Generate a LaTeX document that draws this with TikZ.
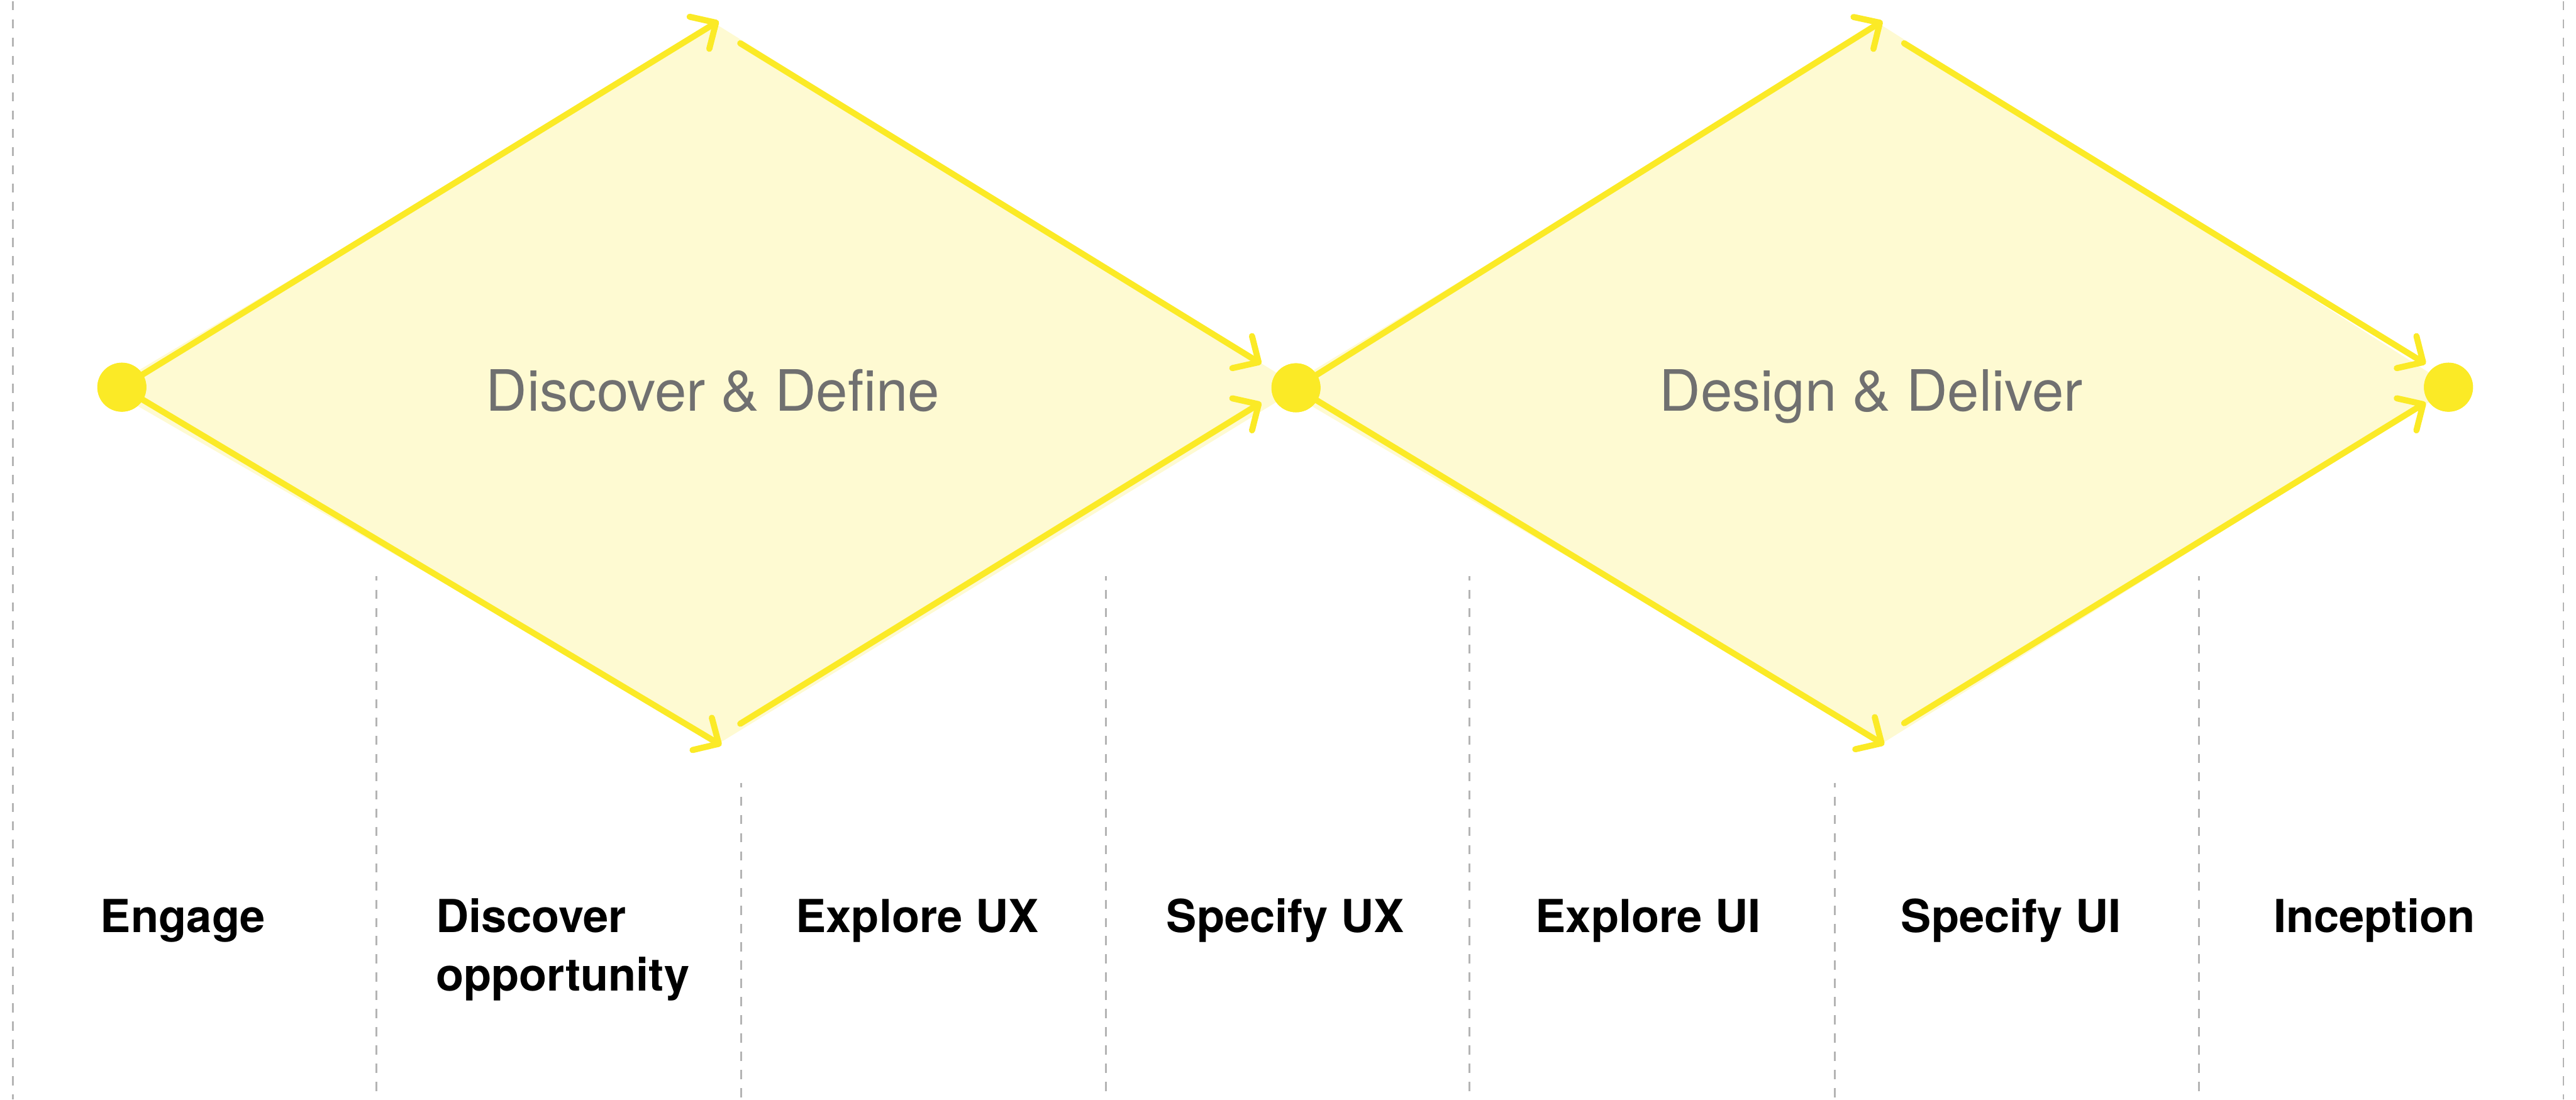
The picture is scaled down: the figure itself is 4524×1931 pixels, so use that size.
\documentclass[tikz,border=0pt]{standalone}
\usepackage{fontspec}
\setmainfont{TeX Gyre Heros}
\usetikzlibrary{arrows.meta}

\definecolor{flowyellow}{HTML}{FBEA26}
\definecolor{phasefill}{HTML}{FEFAD2}
\definecolor{guidegray}{HTML}{B4B4B4}
\definecolor{titlegray}{HTML}{707070}

\begin{document}
\begin{tikzpicture}[x=0.01cm, y=-0.01cm,
  flow/.style={draw=flowyellow, line width=3.05pt, line cap=round, line join=round},
  arrowed/.style={flow, -{Straight Barb[length=0.34cm, width=0.66cm, round]}},
  dot/.style={circle, fill=flowyellow, minimum size=0.86cm, inner sep=0pt},
  phase/.style={fill=phasefill},
  guide/.style={draw=guidegray, line width=0.85pt, dash pattern=on 4.55pt off 4.55pt},
  innerguide/.style={guide, dash phase=2.28pt},
  phasetitle/.style={font=\fontsize{28.45}{34}\selectfont, text=titlegray, anchor=base, inner sep=0pt},
  steplabel/.style={font=\bfseries\fontsize{22.7}{29.3}\selectfont, text=black, anchor=base west, inner sep=0pt}
]
\useasboundingbox (0,0) rectangle (4524,1931);

% column guides
\draw[guide] (23,2) -- (23,1931);
\draw[innerguide] (661,1012) -- (661,1931);
\draw[innerguide] (1302,1375) -- (1302,1931);
\draw[innerguide] (1942,1012) -- (1942,1931);
\draw[innerguide] (2581,1012) -- (2581,1931);
\draw[innerguide] (3222,1375) -- (3222,1931);
\draw[innerguide] (3862,1012) -- (3862,1931);
\draw[guide] (4502,2) -- (4502,1931);

% phase areas
\fill[phase] (214,668) -- (1260,44) -- (2276,676) -- (2276,685) -- (1265,1304) -- (214,697) -- cycle;
\fill[phase] (2276,669) -- (3304,44) -- (4300,676) -- (4300,685) -- (3308,1304) -- (2276,697) -- cycle;

% milestones
\node[dot] (d1) at (214,680) {};
\node[dot] (d2) at (2276,681) {};
\node[dot] (d3) at (4300,680) {};

% turning points of the diamonds
\coordinate (top1) at (1262,37);
\coordinate (bot1) at (1267,1309);
\coordinate (topR1) at (1300,76);
\coordinate (botR1) at (1300,1271);
\coordinate (in1a) at (2215,639);
\coordinate (in1b) at (2215,707);
\coordinate (top2) at (3306,37);
\coordinate (bot2) at (3309,1308);
\coordinate (topR2) at (3344,76);
\coordinate (botR2) at (3344,1270);
\coordinate (in2a) at (4260,639);
\coordinate (in2b) at (4260,707);

% diverge / converge arrows
\draw[arrowed] (d1.center) -- (top1);
\draw[arrowed] (d1.center) -- (bot1);
\draw[arrowed] (topR1) -- (in1a);
\draw[arrowed] (botR1) -- (in1b);
\draw[arrowed] (d2.center) -- (top2);
\draw[arrowed] (d2.center) -- (bot2);
\draw[arrowed] (topR2) -- (in2a);
\draw[arrowed] (botR2) -- (in2b);

% redraw milestones on top of the lines
\fill[flowyellow] (d1) circle[radius=43];
\fill[flowyellow] (d2) circle[radius=43];
\fill[flowyellow] (d3) circle[radius=43];

% phase titles
\node[phasetitle] (ddef) at (1252,722) {Discover \& Define};
\node[phasetitle] (ddel) at (3286,722) {Design \& Deliver};

% step labels
\node[steplabel] (engage) at (176,1637) {Engage};
\node[steplabel] (discover) at (765,1637) {\begin{tabular}[t]{@{}l@{}}Discover\\opportunity\end{tabular}};
\node[steplabel] (explux) at (1397,1637) {Explore UX};
\node[steplabel] (specux) at (2048,1637) {Specify UX};
\node[steplabel] (explui) at (2696,1637) {Explore UI};
\node[steplabel] (specui) at (3338,1637) {Specify UI};
\node[steplabel] (inception) at (3992,1637) {Inception};
\end{tikzpicture}
\end{document}
